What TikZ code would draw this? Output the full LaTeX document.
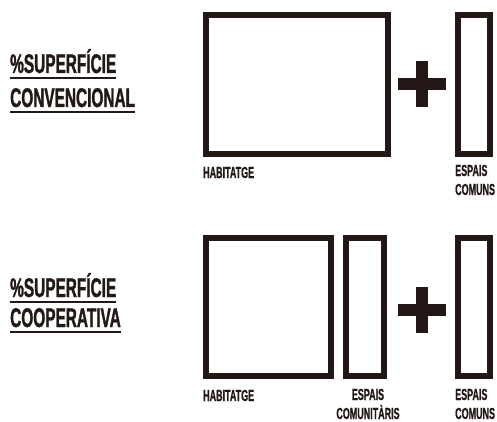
\documentclass[tikz,border=0pt]{standalone}
\usepackage{fontspec}
\usetikzlibrary{positioning}
\newfontfamily\condfont[FakeStretch=0.57,FakeBold=1.2]{Liberation Sans}
\newfontfamily\labelfont[FakeStretch=0.56,FakeBold=0.8]{Liberation Sans}
\definecolor{inkbrown}{RGB}{35,24,21}

\begin{document}
\begin{tikzpicture}[x=1pt, y=-1pt,
    block/.style={draw=inkbrown, line width=6pt, inner sep=0pt, minimum height=139pt},
    title/.style={anchor=base west, inner sep=0pt, text=inkbrown, font=\condfont\bfseries\fontsize{27}{30}\selectfont},
    caption/.style={inner sep=0pt, text=inkbrown, font=\labelfont\bfseries\fontsize{16}{19}\selectfont},
    uline/.style={draw=inkbrown, line width=2.5pt},
    plusbar/.style={fill=inkbrown}]
  \useasboundingbox (0,0) rectangle (497,422);

  % titols
  \node[title] (sup1) at (10,73) {\%SUPERFÍCIE};
  \node[title] (conv) at (10,107) {CONVENCIONAL};
  \node[title] (sup2) at (10,297) {\%SUPERFÍCIE};
  \node[title] (coop) at (10,327) {COOPERATIVA};
  \foreach \t in {sup1,conv,sup2,coop}
    \draw[uline] ([yshift=-5pt]\t.base west) -- ([yshift=-5pt]\t.base east);

  % superficie convencional
  \node[block, minimum width=182pt] (hab1) at (297,84.5) {};
  \node[block, minimum width=32pt] (com1) at (474,84.5) {};
  \coordinate (plus1) at (421.5,84.5);
  \fill[plusbar] ([xshift=-24pt,yshift=-6pt]plus1) rectangle ([xshift=24pt,yshift=6pt]plus1);
  \fill[plusbar] ([xshift=-6pt,yshift=-23pt]plus1) rectangle ([xshift=6pt,yshift=23pt]plus1);
  \node[caption, anchor=base west] (habl1) at (203,178) {HABITATGE};
  \node[caption, anchor=base west, align=left] (coml1) at (455,195) {ESPAIS\\COMUNS};

  % superficie cooperativa
  \node[block, minimum width=125pt, minimum height=138pt] (hab2) at (268.5,307) {};
  \node[block, minimum width=38pt, minimum height=138pt] (comu2) at (365,307) {};
  \node[block, minimum width=32pt, minimum height=138pt] (com2) at (474,307) {};
  \coordinate (plus2) at (422,310);
  \fill[plusbar] ([xshift=-24pt,yshift=-6pt]plus2) rectangle ([xshift=24pt,yshift=6pt]plus2);
  \fill[plusbar] ([xshift=-6pt,yshift=-23pt]plus2) rectangle ([xshift=6pt,yshift=23pt]plus2);
  \node[caption, anchor=base west] (habl2) at (203,401) {HABITATGE};
  \node[caption, anchor=base, align=center] (comul2) at (368,419) {ESPAIS\\COMUNITÀRIS};
  \node[caption, anchor=base west, align=left] (coml2) at (455,419) {ESPAIS\\COMUNS};
\end{tikzpicture}
\end{document}
